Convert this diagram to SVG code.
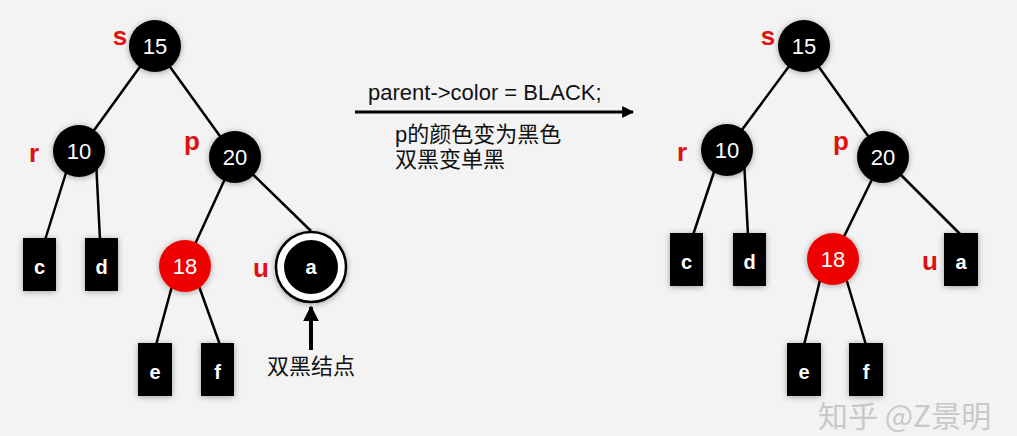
<svg xmlns="http://www.w3.org/2000/svg" width="1017" height="436" viewBox="0 0 1017 436">
<defs>
<filter id="sh" x="-30%" y="-30%" width="160%" height="160%"><feGaussianBlur in="SourceAlpha" stdDeviation="3"/><feOffset dx="0" dy="1"/><feComponentTransfer><feFuncA type="linear" slope="0.35"/></feComponentTransfer><feMerge><feMergeNode/><feMergeNode in="SourceGraphic"/></feMerge></filter>
<marker id="ah" viewBox="0 0 10 10" refX="9" refY="5" markerWidth="4" markerHeight="4" orient="auto"><path d="M0,0 L10,5 L0,10 z" fill="#000"/></marker>
</defs>
<style>
.bk{fill:#000;filter:url(#sh)}
.rd{fill:#ee0000;filter:url(#sh)}
.nt{font-family:"Liberation Sans",Arial,sans-serif;font-size:22px;fill:#fff;text-anchor:middle}
.lt{font-family:"Liberation Sans",Arial,sans-serif;font-size:20px;font-weight:bold;fill:#fff;text-anchor:middle}
.lb{font-family:"Liberation Sans",Arial,sans-serif;font-size:26px;font-weight:bold;fill:#e01010;text-anchor:middle}
.ln{stroke:#000;stroke-width:2.5;fill:none}
.tx{font-family:"Liberation Sans","Noto Sans CJK SC",sans-serif;font-size:22px;fill:#111}
</style>
<rect width="1017" height="436" fill="#f3f3f3"/>
<g id="connectors">
<line class="ln" x1="155" y1="46" x2="79" y2="151"/>
<line class="ln" x1="155" y1="46" x2="235" y2="157"/>
<line class="ln" x1="70" y1="160" x2="45" y2="240"/>
<line class="ln" x1="96" y1="160" x2="100" y2="240"/>
<line class="ln" x1="235" y1="157" x2="185" y2="266"/>
<line class="ln" x1="235" y1="157" x2="311" y2="231"/>
<line class="ln" x1="175" y1="275" x2="156" y2="345"/>
<line class="ln" x1="195" y1="275" x2="220" y2="345"/>
<line stroke="#000" stroke-width="4" x1="311" y1="350" x2="311" y2="307" marker-end="url(#ah)"/>
<line stroke="#000" stroke-width="3" x1="355" y1="112" x2="633" y2="112" marker-end="url(#ah)"/>
<line class="ln" x1="804" y1="46" x2="727" y2="150"/>
<line class="ln" x1="804" y1="46" x2="883" y2="157"/>
<line class="ln" x1="718" y1="160" x2="693" y2="235"/>
<line class="ln" x1="744" y1="160" x2="748" y2="235"/>
<line class="ln" x1="883" y1="157" x2="833" y2="259"/>
<line class="ln" x1="883" y1="157" x2="961" y2="235"/>
<line class="ln" x1="823" y1="268" x2="804" y2="345"/>
<line class="ln" x1="843" y1="268" x2="866" y2="345"/>
</g>
<g id="L15"><circle class="bk" cx="155" cy="46" r="26"/><text class="nt" x="155" y="54">15</text><text class="lb" x="120" y="45">s</text></g>
<g id="L10"><circle class="bk" cx="79" cy="151" r="26"/><text class="nt" x="79" y="159">10</text><text class="lb" x="34" y="162">r</text></g>
<g id="L20"><circle class="bk" cx="235" cy="157" r="26"/><text class="nt" x="235" y="165">20</text><text class="lb" x="192" y="150">p</text></g>
<g id="L18"><circle class="rd" cx="185" cy="266" r="26"/><text class="nt" x="185" y="274">18</text></g>
<g id="Lc"><rect class="bk" x="23" y="238" width="33" height="53"/><text class="lt" x="39.5" y="274">c</text></g>
<g id="Ld"><rect class="bk" x="85" y="238" width="33" height="53"/><text class="lt" x="101.5" y="274">d</text></g>
<g id="Le"><rect class="bk" x="138" y="343" width="34" height="53"/><text class="lt" x="155" y="379">e</text></g>
<g id="Lf"><rect class="bk" x="201" y="343" width="33" height="53"/><text class="lt" x="217.5" y="379">f</text></g>
<g id="La"><circle cx="311" cy="267" r="35" fill="#fff" stroke="#000" stroke-width="2.5" filter="url(#sh)"/><circle cx="311" cy="267" r="27" fill="#000"/><text class="lt" x="311" y="274">a</text><text class="lb" x="261" y="277">u</text></g>
<g id="dblabel"><text class="tx" x="311" y="374" text-anchor="middle">双黑结点</text></g>
<g id="step"><text class="tx" x="368" y="100">parent-&gt;color = BLACK;</text><text class="tx" x="395" y="142">p的颜色变为黑色</text><text class="tx" x="395" y="167">双黑变单黑</text></g>
<g id="R15"><circle class="bk" cx="804" cy="46" r="26"/><text class="nt" x="804" y="54">15</text><text class="lb" x="768" y="45">s</text></g>
<g id="R10"><circle class="bk" cx="727" cy="150" r="26"/><text class="nt" x="727" y="158">10</text><text class="lb" x="682" y="161">r</text></g>
<g id="R20"><circle class="bk" cx="883" cy="157" r="26"/><text class="nt" x="883" y="165">20</text><text class="lb" x="841" y="150">p</text></g>
<g id="R18"><circle class="rd" cx="833" cy="259" r="26"/><text class="nt" x="833" y="267">18</text></g>
<g id="Rc"><rect class="bk" x="670" y="233" width="33" height="53"/><text class="lt" x="686.5" y="269">c</text></g>
<g id="Rd"><rect class="bk" x="733" y="233" width="33" height="53"/><text class="lt" x="749.5" y="269">d</text></g>
<g id="Re"><rect class="bk" x="787" y="343" width="34" height="53"/><text class="lt" x="804" y="379">e</text></g>
<g id="Rf"><rect class="bk" x="849" y="343" width="34" height="53"/><text class="lt" x="866" y="379">f</text></g>
<g id="Ra"><rect class="bk" x="944" y="233" width="34" height="53"/><text class="lt" x="961" y="269">a</text><text class="lb" x="930" y="270">u</text></g>
<text x="818" y="427" font-family="'Noto Sans CJK SC',sans-serif" font-size="30" fill="#c9c9c9">知乎 @Z景明</text>
</svg>
